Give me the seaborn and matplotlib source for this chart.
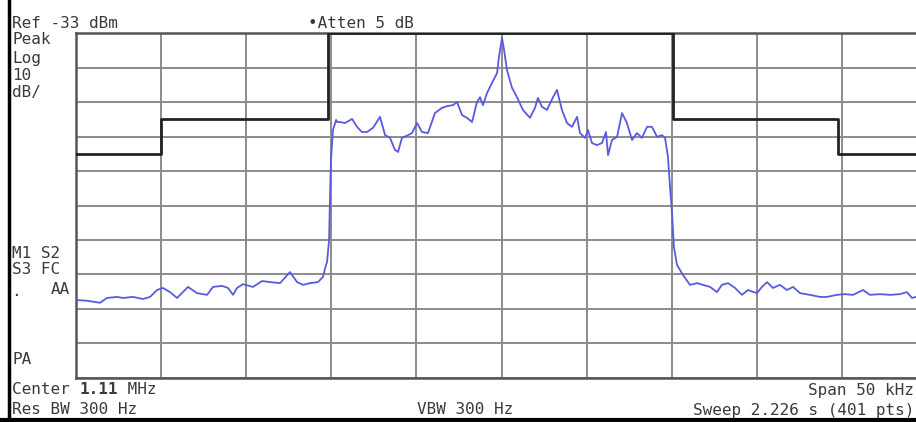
import matplotlib
matplotlib.use("Agg")
import matplotlib.pyplot as plt
import seaborn as sns
import pandas as pd
from matplotlib.lines import Line2D

# frequency offset from center (kHz) and level (dBm)
trace_offset_khz = [-25.0, -24.35, -23.59, -23.18, -22.59, -22.24, -21.65, -21.06, -20.65, -20.24,
                    -19.89, -19.48, -19.06, -18.42, -17.89, -17.30, -16.95, -16.42, -16.07, -15.77,
                    -15.54, -15.19, -14.60, -14.07, -13.60, -13.01, -12.43, -12.01, -11.66, -11.25,
                    -10.78, -10.49, -10.31, -10.25, -10.13, -10.08, -10.02, -9.90, -9.72, -9.66,
                    -9.49, -9.19, -8.78, -8.49, -8.20, -7.90, -7.55, -7.14, -6.84, -6.55,
                    -6.26, -6.08, -5.85, -5.49, -5.26, -4.96, -4.67, -4.32, -3.91, -3.50,
                    -3.20, -2.85, -2.61, -2.32, -2.03, -1.73, -1.44, -1.26, -1.09, -0.85,
                    -0.56, -0.26, -0.15, 0.03, 0.15, 0.32, 0.62, 0.91, 1.26, 1.67,
                    1.97, 2.14, 2.38, 2.67, 3.03, 3.26, 3.55, 3.85, 4.14, 4.44,
                    4.61, 4.91, 5.08, 5.32, 5.61, 5.90, 6.14, 6.26, 6.49, 6.79,
                    7.08, 7.37, 7.67, 7.96, 8.25, 8.55, 8.84, 9.14, 9.43, 9.61,
                    9.72, 9.78, 9.90, 10.02, 10.13, 10.31, 10.66, 11.07, 11.49, 11.84,
                    12.25, 12.66, 12.95, 13.31, 13.72, 14.13, 14.48, 15.01, 15.30, 15.60,
                    15.95, 16.36, 16.77, 17.13, 17.54, 18.12, 18.71, 19.12, 19.71, 20.18,
                    20.65, 21.24, 21.65, 22.24, 22.82, 23.41, 23.82, 24.12, 24.35, 25.0]
trace_dbm = [-110.4, -110.6, -111.2, -109.8, -109.5, -109.8, -109.5, -110.1, -109.5, -107.5,
             -106.9, -108.1, -109.8, -106.6, -108.4, -108.9, -106.6, -106.3, -106.9, -108.9,
             -106.9, -105.8, -106.6, -104.9, -105.2, -105.5, -102.3, -105.2, -106.0, -105.5,
             -105.2, -103.7, -100.2, -99.4, -93.0, -81.4, -69.8, -61.1, -58.2, -58.8,
             -58.8, -59.1, -57.9, -60.2, -61.7, -61.7, -60.5, -57.3, -62.6, -63.4,
             -66.9, -67.5, -63.4, -62.6, -62.0, -59.1, -61.7, -62.0, -56.2, -54.7,
             -54.2, -53.9, -53.0, -56.8, -57.6, -58.8, -53.0, -51.6, -53.9, -50.4,
             -47.5, -44.6, -40.0, -34.4, -37.9, -43.7, -48.9, -51.6, -55.3, -57.6,
             -54.7, -51.8, -54.4, -55.3, -51.6, -49.5, -55.3, -59.1, -60.2, -57.3,
             -62.0, -63.4, -61.1, -64.9, -65.5, -64.9, -61.7, -68.4, -64.0, -63.1,
             -56.2, -59.1, -64.0, -62.0, -63.4, -60.2, -60.2, -63.1, -62.6, -63.4,
             -66.9, -68.9, -77.6, -85.2, -95.0, -100.2, -103.1, -106.0, -105.5, -106.0,
             -106.6, -108.1, -106.0, -105.5, -106.9, -108.9, -107.5, -108.4, -106.6, -105.2,
             -106.9, -106.0, -107.5, -106.6, -108.4, -108.9, -109.5, -109.5, -108.9, -108.7,
             -108.9, -107.5, -108.9, -108.7, -108.9, -108.7, -108.1, -109.8, -109.5, -109.0]

# spectrum mask (limit line), step values
limit_offset_khz = [-25.0, -20.0, -10.2, 10.1, 19.8, 25.0]
limit_dbm = [-68, -58, -33, -58, -68, -68]

ref_level = -33
db_per_div = 10
span_khz = 50

trace = pd.DataFrame({"f": trace_offset_khz, "dbm": trace_dbm})
limit = pd.DataFrame({"f": limit_offset_khz, "dbm": limit_dbm})

sns.set_style("white")
plt.rcParams["font.family"] = ["DejaVu Sans Mono"]

W, H = 916, 422
fig = plt.figure(figsize=(W / 100, H / 100), dpi=100)
fig.patch.set_facecolor("white")

# graticule extends a bit past the right edge of the screenshot
ax = fig.add_axes([76 / W, (H - 378) / H, 851 / W, 345 / H])
ax.set_xlim(-span_khz / 2, span_khz / 2)
ax.set_ylim(ref_level - 10 * db_per_div, ref_level)
ax.set_xticks([-25 + 5 * i for i in range(11)])
ax.set_yticks([ref_level - db_per_div * i for i in range(11)])
ax.grid(True, color="#8c8c8c", lw=1.4)
ax.tick_params(length=0, labelbottom=False, labelleft=False)
for s in ax.spines.values():
    s.set_color("#555555")
    s.set_linewidth(1.8)

sns.lineplot(data=limit, x="f", y="dbm", ax=ax, drawstyle="steps-post",
             color="#222222", lw=2.0, estimator=None, zorder=3)
sns.lineplot(data=trace, x="f", y="dbm", ax=ax, color="#5a5ae0", lw=1.3,
             estimator=None, zorder=4)
ax.set_xlabel("")
ax.set_ylabel("")

# outer screen frame
fig.add_artist(Line2D([9 / W, 9 / W], [0, 1], color="black", lw=2.5))
fig.add_artist(Line2D([0, 1], [(H - 420) / H, (H - 420) / H], color="black", lw=3))

fs = 11.5
tc = "#3a3a3a"
char_w = fs * 0.602 * 100 / 72


def label(x, y, s, ha="left", **kw):
    fig.text(x / W, 1 - y / H, s, ha=ha, va="center", fontsize=fs, color=tc, **kw)


label(12, 24, "Ref -33 dBm")
label(308, 24, "\u2022Atten 5 dB")
label(12, 40, "Peak")
label(12, 58, "Log")
label(12, 75, "10")
label(12, 92, "dB/")
label(12, 254, "M1 S2")
label(12, 269, "S3 FC")
label(70, 290, "AA", ha="right")
label(11, 292, ".")
label(12, 359, "PA")
label(12, 390, "Center ")
label(12 + 7 * char_w, 390, "1.11", fontweight="bold")
label(12 + 11 * char_w, 390, " MHz")
label(12, 410, "Res BW 300 Hz")
label(465, 410, "VBW 300 Hz", ha="center")
label(914, 390, "Span 50 kHz", ha="right")
label(914, 410, "Sweep 2.226 s (401 pts)", ha="right")

fig.savefig("out.png", dpi=100)
